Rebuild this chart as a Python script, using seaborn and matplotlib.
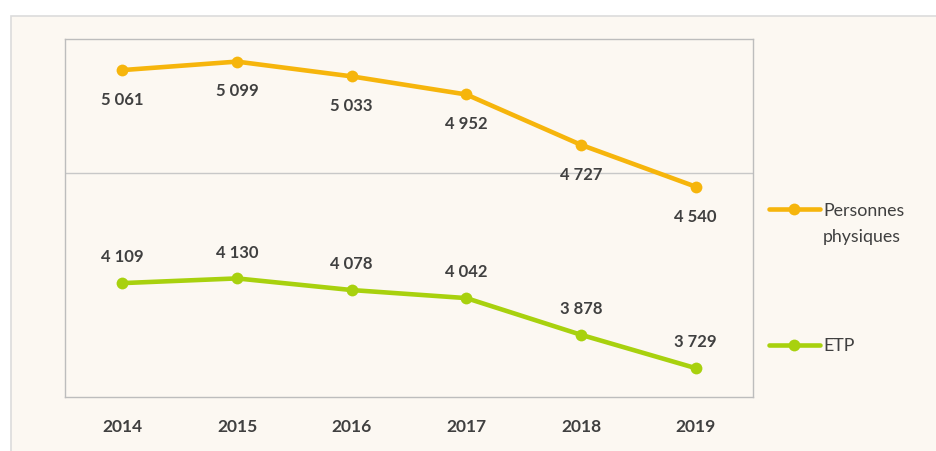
import pandas as pd
import matplotlib
matplotlib.use("Agg")
import matplotlib.pyplot as plt
import seaborn as sns
from matplotlib.patches import Rectangle

# Data
years = ["2014", "2015", "2016", "2017", "2018", "2019"]
personnes = [5061, 5099, 5033, 4952, 4727, 4540]
etp = [4109, 4130, 4078, 4042, 3878, 3729]
series_names = ["Personnes\nphysiques", "ETP"]

orange = "#f6b50c"
green = "#a8d10e"
text_col = "#404040"
bg = "#fcf8f2"

df = pd.DataFrame({
    "Année": years * 2,
    "Valeur": personnes + etp,
    "Série": [series_names[0]] * len(years) + [series_names[1]] * len(years),
})

def fmt(v):
    return f"{v:,}".replace(",", " ")

sns.set_style("white")
plt.rcParams["font.family"] = ["Lato", "DejaVu Sans"]

fig = plt.figure(figsize=(9.37, 4.51), dpi=100)
fig.patch.set_facecolor("white")
# chart area background (beige panel with thin border)
fig.patches.append(Rectangle((11 / 937, -0.1), 1.1, 1 - 16 / 451 + 0.1,
                             transform=fig.transFigure, facecolor=bg,
                             edgecolor="#dcdcdc", linewidth=1.2, zorder=-10))

ax = fig.add_axes([65 / 937, 1 - 397 / 451, (753 - 65) / 937, (397 - 39) / 451])
ax.set_zorder(5)
ax.set_facecolor(bg)

sns.lineplot(data=df, x="Année", y="Valeur", hue="Série",
             palette=[orange, green], marker="o", markersize=8.5,
             markeredgewidth=0, linewidth=3.3, ax=ax, legend=True)

ax.set_xlim(-0.5, len(years) - 0.5)
ax.set_ylim(3600, 5200)
ax.set_yticks([])
ax.axhline(4600, color="#c8c8c8", linewidth=1, zorder=0)
ax.set_xlabel("")
ax.set_ylabel("")
ax.tick_params(axis="x", length=0, pad=16, labelsize=12.5, labelcolor=text_col)
for lab in ax.get_xticklabels():
    lab.set_fontweight("bold")
for sp in ax.spines.values():
    sp.set_color("#bdbdbd")
    sp.set_linewidth(1)

# data labels
for i, v in enumerate(personnes):
    ax.annotate(fmt(v), xy=(i, v), xytext=(0, -21.5), textcoords="offset points",
                ha="center", va="center", fontsize=12, fontweight="bold", color=text_col)
for i, v in enumerate(etp):
    ax.annotate(fmt(v), xy=(i, v), xytext=(0, 18.5), textcoords="offset points",
                ha="center", va="center", fontsize=12, fontweight="bold", color=text_col)

# legend on the right
handles, labels = ax.get_legend_handles_labels()
leg = ax.legend(handles, labels, loc="upper left",
                bbox_to_anchor=(769 / 937, 1 - 203 / 451), bbox_transform=fig.transFigure,
                frameon=False, fontsize=12.8, handlelength=2.85, handletextpad=0.2,
                labelspacing=5.2, borderpad=0, borderaxespad=0)
for t in leg.get_texts():
    t.set_color(text_col)
    t.set_linespacing(1.8)
# put the orange handle next to the first line of its two-line label
first_item = leg._legend_handle_box.get_children()[0].get_children()[0]
first_item.align = "top"

fig.savefig("out.png", dpi=100, facecolor=fig.get_facecolor())
